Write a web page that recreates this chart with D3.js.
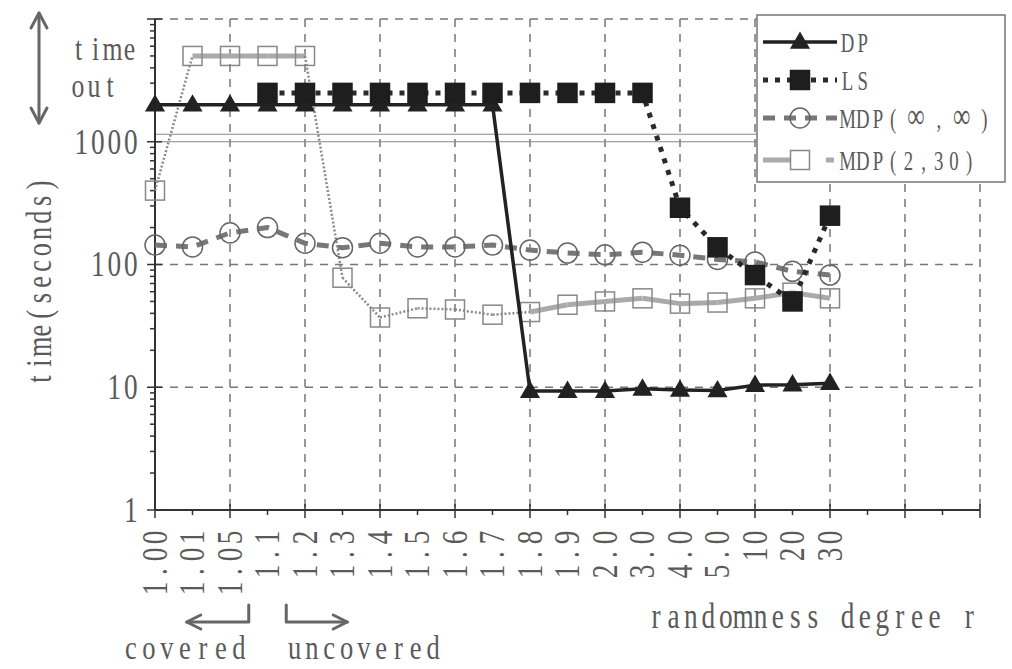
<!DOCTYPE html>
<html>
<head>
<meta charset="utf-8">
<script src="https://cdn.jsdelivr.net/npm/d3@7"></script>
<style>
  html, body { margin: 0; padding: 0; background: #fff; }
  svg { display: block; }
</style>
</head>
<body>
<svg id="chart" width="1012" height="669"></svg>
<script>
// Randomness degree r (x categories)
const categories = ["1.00","1.01","1.05","1.1","1.2","1.3","1.4","1.5","1.6","1.7",
                    "1.8","1.9","2.0","3.0","4.0","5.0","10","20","30"];
// Running time in seconds per method (values above 1000 are time-outs)
const dpTimes     = [2000,2000,2000,2000,2000,2000,2000,2000,2000,2000,
                     9.3,9.3,9.3,9.7,9.5,9.4,10.4,10.5,10.8];
const lsTimes     = [null,null,null,2500,2500,2500,2500,2500,2500,2500,
                     2500,2500,2500,2500,290,138,82,50,250];
const mdpInfTimes = [144,139,181,200,149,137,149,139,139,144,
                     131,124,120,126,119,110,105,88,82];
const mdp230Times = [400,5000,5000,5000,5000,78,37,44,43,39,
                     41,47,50,53,48,49,53,59,53];
const yTickValues = [1,10,100,1000];
const seriesNames = ["DP","LS","MDP(\u221e,\u221e)","MDP(2,30)"];

const svg = d3.select("#chart");
const SERIF = "'Liberation Serif', 'DejaVu Serif', serif";
const TEXT = "#5a5a5a";

// x: category index, with room for 22 intervals along the axis
const x = d3.scaleLinear().domain([0, 22]).range([155, 980]);
const y = d3.scaleLog().domain([1, 10000]).range([510, 19]);

// Fixed-pitch serif text: narrowed with a horizontal scale, each glyph
// centred in its own cell; "∞" takes a double cell.
const meas = svg.append("text").style("font-family", SERIF).attr("visibility", "hidden");
function glyphWidth(ch, size) {
  meas.style("font-size", size + "px").text(ch);
  return meas.node().getComputedTextLength();
}
function monoText(parent, str, px, py, o = {}) {
  const size = o.size || 35, cell = o.cell || 17, sx = o.sx || 0.78;
  let tr = `translate(${px},${py})`;
  if (o.rotate) tr += ` rotate(${o.rotate})`;
  tr += ` scale(${sx},1)`;
  const t = parent.append("text")
    .attr("transform", tr)
    .style("font-family", SERIF)
    .style("font-size", size + "px")
    .style("white-space", "pre")
    .style("fill", o.fill || TEXT);
  const chars = [...str];
  const wide = ch => ch === "\u221e";
  const cells = chars.map(ch => (wide(ch) ? 2 : 1) * cell / sx);
  const total = d3.sum(cells);
  let pos = o.anchor === "end" ? -total : o.anchor === "middle" ? -total / 2 : 0;
  chars.forEach((ch, k) => {
    const fs = wide(ch) ? size * 1.3 : size;
    const ts = t.append("tspan").attr("y", 0).text(ch);
    if (fs !== size) ts.style("font-size", fs + "px");
    const w = ch === " " ? cells[k] : glyphWidth(ch, fs);
    ts.attr("x", pos + (cells[k] - w) / 2);
    pos += cells[k];
  });
  return t;
}

// ---- grid ----
const grid = svg.append("g")
  .attr("stroke", "#777").attr("stroke-width", 1.5)
  .attr("stroke-dasharray", "8,7").attr("fill", "none");
d3.range(2, 23, 2).forEach(i => {
  grid.append("line").attr("x1", x(i)).attr("x2", x(i))
    .attr("y1", y(10000)).attr("y2", y(1));
});
[10, 100, 10000].forEach(v => {
  grid.append("line").attr("x1", x(0)).attr("x2", x(22))
    .attr("y1", y(v)).attr("y2", y(v));
});
// axis break just above 1000
[y(1000), y(1000) - 7.5].forEach(py => {
  svg.append("line").attr("x1", x(0)).attr("x2", x(22))
    .attr("y1", py).attr("y2", py)
    .attr("stroke", "#888").attr("stroke-width", 1.2);
});

// ---- axes ----
const axes = svg.append("g").attr("stroke", "#333").attr("fill", "none");
axes.append("line").attr("x1", x(0)).attr("x2", x(22))
  .attr("y1", y(1)).attr("y2", y(1)).attr("stroke-width", 2);
axes.append("line").attr("x1", x(0)).attr("x2", x(0))
  .attr("y1", y(10000)).attr("y2", y(1)).attr("stroke-width", 2);
d3.range(0, 23).forEach(i => {
  const major = i % 2 === 0;
  axes.append("line").attr("x1", x(i)).attr("x2", x(i))
    .attr("y1", y(1) - (major ? 6 : 0)).attr("y2", y(1) + (major ? 8 : 5))
    .attr("stroke-width", 1.5);
});
[1, 10, 100, 1000, 10000].forEach(v => {
  axes.append("line").attr("x1", x(0) - 8).attr("x2", x(0) + 7)
    .attr("y1", y(v)).attr("y2", y(v)).attr("stroke-width", 1.5);
});
for (let d = 1; d <= 1000; d *= 10) {
  for (let k = 2; k <= 9; k++) {
    axes.append("line").attr("x1", x(0) - 5).attr("x2", x(0))
      .attr("y1", y(d * k)).attr("y2", y(d * k)).attr("stroke-width", 1.5);
  }
}

// y tick labels
yTickValues.forEach(v => monoText(svg, String(v), 139, y(v) + 11.8, { anchor: "end", cell: 16.5 }));
// x tick labels (rotated, reading upward)
categories.forEach((c, i) => monoText(svg, c, x(i) + 11.8, 529, { anchor: "end", rotate: -90 }));

// axis titles and notes
monoText(svg, "time(seconds)", 51, 282, { anchor: "middle", rotate: -90, cell: 16.2, sx: 0.75 });
monoText(svg, "time", 70, 60, { size: 33 });
monoText(svg, "out", 70, 97, { size: 33, cell: 16 });
monoText(svg, "randomness degree r", 978, 628, { anchor: "end", cell: 17.4 });
monoText(svg, "covered", 122, 659, { size: 34, cell: 18 });
monoText(svg, "uncovered", 286, 659, { size: 34, cell: 17.3 });

// arrows
const arrowG = svg.append("g").attr("stroke", "#666").attr("stroke-width", 3)
  .attr("fill", "none").attr("stroke-linecap", "round").attr("stroke-linejoin", "round");
arrowG.append("line").attr("x1", 39).attr("x2", 39).attr("y1", 13).attr("y2", 123);
arrowG.append("path").attr("d", "M31,28 L39,13 L47,28");
arrowG.append("path").attr("d", "M31,108 L39,123 L47,108");
const bL = (x(2) + x(3)) / 2, bR = (x(3) + x(4)) / 2;
arrowG.append("path").attr("d", `M${bL},605 V622 H${bL - 62}`);
arrowG.append("path").attr("d", `M${bL - 48},615 L${bL - 62},622 L${bL - 48},629`);
arrowG.append("path").attr("d", `M${bR},605 V622 H${bR + 61}`);
arrowG.append("path").attr("d", `M${bR + 47},615 L${bR + 61},622 L${bR + 47},629`);

// ---- series ----
const pts = arr => arr.map((v, i) => ({ i, v })).filter(d => d.v != null);
const line = d3.line().x(d => x(d.i)).y(d => y(d.v));
const tri = d3.symbol().type(d3.symbolTriangle).size(175);

const styles = {
  dp:  { stroke: "#222", width: 3.5, dash: null },
  ls:  { stroke: "#2a2a2a", width: 5, dash: "5,7" },
  inf: { stroke: "#777", width: 5, dash: "12,9" },
  m230:{ stroke: "#aaa", width: 5, dash: null },
  m230thin: { stroke: "#8a8a8a", width: 2.5, dash: "2,2" }
};
function drawLine(g, data, st) {
  g.append("path").datum(data).attr("d", line).attr("fill", "none")
    .attr("stroke", st.stroke).attr("stroke-width", st.width)
    .attr("stroke-dasharray", st.dash);
}
function square(g, cx, cy, fill, stroke) {
  g.append("rect").attr("x", cx - 9.5).attr("y", cy - 9.5)
    .attr("width", 19).attr("height", 19)
    .attr("fill", fill).attr("stroke", stroke).attr("stroke-width", 1.5);
}
function circle(g, cx, cy) {
  g.append("circle").attr("cx", cx).attr("cy", cy).attr("r", 10)
    .attr("fill", "none").attr("stroke", "#666").attr("stroke-width", 1.5);
}
function triangle(g, cx, cy) {
  g.append("path").attr("d", tri()).attr("transform", `translate(${cx},${cy + 1})`)
    .attr("fill", "#222");
}

// MDP(2,30): steep transitions drawn thin
const m230 = pts(mdp230Times);
const thinSegments = new Set([0, 4, 5, 6, 7, 8, 9]);
const gM230 = svg.append("g");
for (let k = 0; k < m230.length - 1; k++) {
  drawLine(gM230, [m230[k], m230[k + 1]], thinSegments.has(k) ? styles.m230thin : styles.m230);
}
m230.forEach(d => square(gM230, x(d.i), y(d.v), "none", "#888"));

// MDP(inf,inf)
const gInf = svg.append("g");
const inf = pts(mdpInfTimes);
drawLine(gInf, inf, styles.inf);
inf.forEach(d => circle(gInf, x(d.i), y(d.v)));

// DP
const gDp = svg.append("g");
const dp = pts(dpTimes);
drawLine(gDp, dp, styles.dp);
dp.forEach(d => triangle(gDp, x(d.i), y(d.v)));

// LS
const gLs = svg.append("g");
const ls = pts(lsTimes);
drawLine(gLs, ls, styles.ls);
ls.forEach(d => square(gLs, x(d.i), y(d.v), "#1e1e1e", "#1e1e1e"));

// ---- legend ----
const lg = svg.append("g");
lg.append("rect").attr("x", 757).attr("y", 15).attr("width", 248).attr("height", 167)
  .attr("fill", "#fff").attr("stroke", "#777").attr("stroke-width", 1.5);
const rows = [42, 80, 118, 160];
const seg = (x1, x2, yy) => [{ i: x.invert(x1), v: y.invert(yy) }, { i: x.invert(x2), v: y.invert(yy) }];
drawLine(lg, seg(763, 837, rows[0]), styles.dp);
triangle(lg, 800, rows[0]);
drawLine(lg, seg(763, 837, rows[1]), styles.ls);
square(lg, 800, rows[1], "#1e1e1e", "#1e1e1e");
drawLine(lg, seg(763, 837, rows[2]), styles.inf);
circle(lg, 800, rows[2]);
drawLine(lg, seg(763, 810, rows[3]), styles.m230);
drawLine(lg, seg(826, 834, rows[3]), styles.m230);
square(lg, 800, rows[3], "#fff", "#888");
seriesNames.forEach((n, k) => monoText(lg, n, 840, rows[k] + 9.5, { size: 28, cell: 15.2, sx: 0.67 }));
meas.remove();
</script>
</body>
</html>
